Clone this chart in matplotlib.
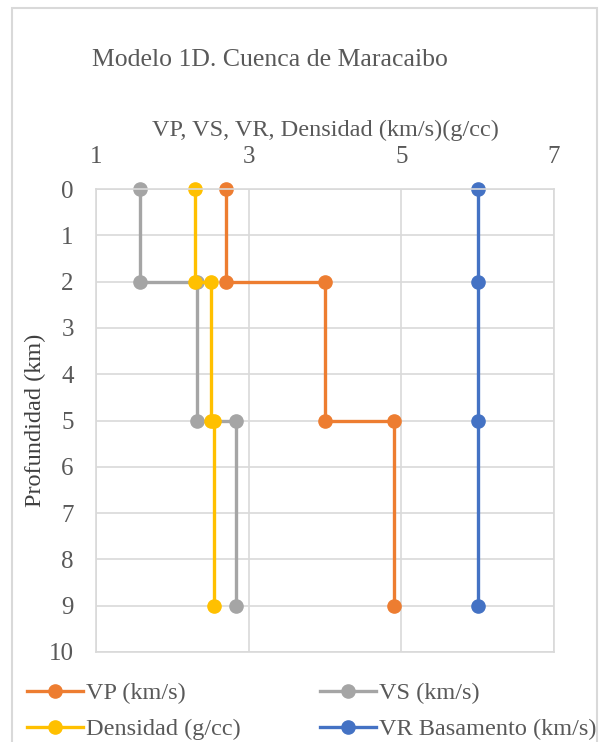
import matplotlib.pyplot as plt
from matplotlib.patches import Rectangle

plt.rcParams['font.family'] = ['Liberation Serif', 'DejaVu Serif']

# Datos del modelo (velocidad / densidad vs profundidad)
prof = [0, 2, 2, 5, 5, 9]
vp = [2.7, 2.7, 4.0, 4.0, 4.9, 4.9]
vs = [1.57, 1.57, 2.32, 2.32, 2.84, 2.84]
dens = [2.3, 2.3, 2.51, 2.51, 2.55, 2.55]
prof_vr = [0, 2, 5, 9]
vr = [6.0, 6.0, 6.0, 6.0]

c_vp = '#ED7D31'
c_vs = '#A5A5A5'
c_dens = '#FFC000'
c_vr = '#4472C4'
gris = '#595959'
rejilla = '#D9D9D9'

W, H = 603, 742
fig = plt.figure(figsize=(W / 100, H / 100), dpi=100)

# Borde del area del grafico
fig.patches.append(Rectangle((12 / W, -0.01), (597 - 12) / W, 1.01 - 8 / H, transform=fig.transFigure,
                             fill=False, edgecolor=rejilla, linewidth=1.5))

ax = fig.add_axes([96 / W, 1 - 652 / H, (554 - 96) / W, (652 - 189) / H])

estilo = dict(linewidth=2.4, marker='o', markersize=9.5, clip_on=False)
ax.plot(vp, prof, color=c_vp, label='VP (km/s)', **estilo)
ax.plot(vs, prof, color=c_vs, label='VS (km/s)', **estilo)
ax.plot(dens, prof, color=c_dens, label='Densidad (g/cc)', **estilo)
ax.plot(vr, prof_vr, color=c_vr, label='VR Basamento (km/s)', **estilo)

ax.set_xlim(1, 7)
ax.set_ylim(10, 0)
ax.set_xticks([1, 3, 5, 7])
ax.set_yticks(range(0, 11))
ax.xaxis.tick_top()
ax.xaxis.set_label_position('top')
ax.tick_params(axis='both', length=0, labelsize=18, labelcolor=gris)
ax.tick_params(axis='x', pad=15)
ax.tick_params(axis='y', pad=16)
ax.grid(True, color=rejilla, linewidth=1.2)
ax.set_axisbelow(True)
for s in ax.spines.values():
    s.set_color(rejilla)
    s.set_linewidth(1.2)

ax.set_xlabel('VP, VS, VR, Densidad (km/s)(g/cc)', fontsize=17.5, color=gris, labelpad=7)
ax.set_ylabel('Profundidad (km)', fontsize=17.5, color='#404040')
ax.yaxis.set_label_coords((46 - 96) / 458, 0.5)

fig.text(270 / W, 1 - 60 / H, 'Modelo 1D. Cuenca de Maracaibo', fontsize=18.5, color=gris,
         ha='center', va='center')

# Leyenda en dos columnas
h = {l.get_label(): l for l in ax.get_lines()}
ley = dict(frameon=False, fontsize=17.5, labelcolor=gris, handlelength=2.3,
           handletextpad=0.12, labelspacing=0.58, borderpad=0, borderaxespad=0, loc='upper left')
fig.legend([h['VP (km/s)'], h['Densidad (g/cc)']], ['VP (km/s)', 'Densidad (g/cc)'],
           bbox_to_anchor=(27 / W, 1 - 682 / H), **ley)
fig.legend([h['VS (km/s)'], h['VR Basamento (km/s)']], ['VS (km/s)', 'VR Basamento (km/s)'],
           bbox_to_anchor=(320 / W, 1 - 682 / H), **ley)

fig.savefig('out.png', dpi=100)
